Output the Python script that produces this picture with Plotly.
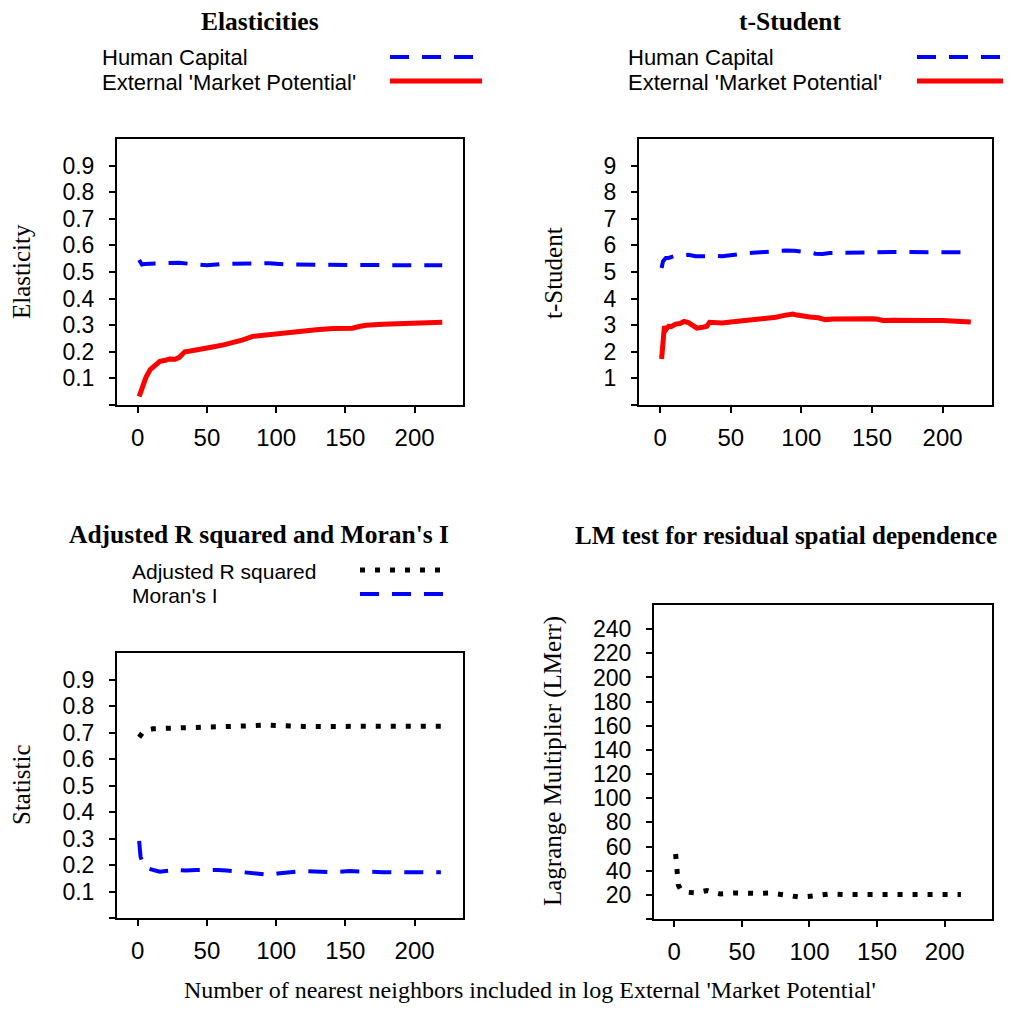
import plotly.graph_objects as go

# ---------------- data ----------------
# Panel 1: Elasticities
el_hc_x = [1, 2, 3, 5, 10, 20, 25, 30, 40, 45, 50, 60, 70, 80, 90, 95, 100, 110, 130, 150, 170, 190, 210, 220]
el_hc_y = [0.545, 0.535, 0.528, 0.530, 0.531, 0.534, 0.537, 0.535, 0.529, 0.526, 0.525, 0.530, 0.531, 0.532,
           0.534, 0.533, 0.531, 0.528, 0.527, 0.527, 0.526, 0.526, 0.525, 0.525]
el_mp_x = [1, 2, 4, 6, 9, 12, 16, 20, 23, 27, 30, 32, 34, 38, 45, 54, 62, 69, 76, 83, 90, 95, 105, 117, 129,
           141, 150, 155, 160, 165, 177, 189, 201, 210, 220]
el_mp_y = [0.032, 0.050, 0.082, 0.105, 0.133, 0.148, 0.164, 0.168, 0.173, 0.172, 0.179, 0.190, 0.200, 0.203,
           0.208, 0.218, 0.226, 0.235, 0.245, 0.258, 0.262, 0.268, 0.272, 0.277, 0.283, 0.288, 0.289, 0.289,
           0.295, 0.300, 0.304, 0.306, 0.308, 0.310, 0.311]

# Panel 2: t-Student
ts_hc_x = [1, 2, 4, 6, 10, 16, 20, 25, 30, 35, 40, 44, 50, 57, 63, 70, 77, 84, 89, 95, 101, 106, 110, 115, 120,
           130, 139, 153, 165, 177, 190, 200, 210, 220]
ts_hc_y = [5.15, 5.40, 5.53, 5.53, 5.60, 5.65, 5.65, 5.59, 5.60, 5.61, 5.60, 5.59, 5.64, 5.68, 5.71, 5.74, 5.78,
           5.80, 5.81, 5.80, 5.78, 5.73, 5.69, 5.68, 5.71, 5.73, 5.74, 5.74, 5.75, 5.75, 5.75, 5.75, 5.75, 5.74]
ts_mp_x = [1, 2, 3, 4, 6, 8, 11, 14, 17, 20, 22, 24, 26, 30, 33, 35, 40, 44, 50, 54, 60, 63, 70, 77, 82, 87,
           91, 94, 97, 101, 106, 112, 117, 123, 129, 140, 150, 153, 158, 165, 177, 190, 200, 210, 220]
ts_mp_y = [1.73, 2.33, 2.96, 2.83, 2.96, 2.95, 3.04, 3.06, 3.14, 3.10, 3.02, 2.95, 2.89, 2.92, 2.96, 3.11, 3.10,
           3.08, 3.12, 3.14, 3.20, 3.23, 3.24, 3.29, 3.30, 3.36, 3.42, 3.42, 3.38, 3.33, 3.31, 3.28, 3.21, 3.23,
           3.24, 3.25, 3.24, 3.23, 3.18, 3.19, 3.17, 3.18, 3.18, 3.15, 3.12]

# Panel 3: Adjusted R squared and Moran's I
r2_x = [1, 2, 4, 7, 11, 21, 30, 45, 60, 69, 80, 91, 100, 105, 120, 141, 165, 190, 219]
r2_y = [0.682, 0.692, 0.703, 0.710, 0.714, 0.716, 0.717, 0.718, 0.720, 0.722, 0.725, 0.728, 0.726, 0.724,
        0.723, 0.723, 0.724, 0.724, 0.724]
mi_x = [1, 2, 4, 7, 12, 16, 22, 26, 30, 35, 42, 50, 58, 64, 72, 83, 90, 95, 101, 107, 115, 122, 130, 141,
        153, 165, 177, 200, 219]
mi_y = [0.291, 0.232, 0.200, 0.188, 0.180, 0.175, 0.178, 0.184, 0.181, 0.179, 0.181, 0.182, 0.181, 0.179,
        0.175, 0.169, 0.165, 0.163, 0.168, 0.172, 0.175, 0.177, 0.176, 0.173, 0.177, 0.175, 0.173, 0.173, 0.173]

# Panel 4: LM test
lm_x = [1, 2, 3, 5, 9, 16, 24, 34, 46, 60, 71, 81, 93, 105, 115, 125, 140, 162, 187, 212]
lm_y = [53.8, 38.7, 28.0, 24.0, 22.2, 21.6, 23.6, 20.8, 21.6, 21.2, 21.6, 20.0, 18.1, 19.4, 20.8, 20.3, 20.0,
        20.3, 20.3, 20.3]

x_ticks = [0, 50, 100, 150, 200]
y01_ticks = [0, 0.1, 0.2, 0.3, 0.4, 0.5, 0.6, 0.7, 0.8, 0.9]
y01_text = ["", "0.1", "0.2", "0.3", "0.4", "0.5", "0.6", "0.7", "0.8", "0.9"]
yt_ticks = [0, 1, 2, 3, 4, 5, 6, 7, 8, 9]
yt_text = ["", "1", "2", "3", "4", "5", "6", "7", "8", "9"]
ylm_ticks = [0, 20, 40, 60, 80, 100, 120, 140, 160, 180, 200, 220, 240]
ylm_text = [""] + [str(v) for v in ylm_ticks[1:]]

titles = ["Elasticities", "t-Student", "Adjusted R squared and Moran's I",
          "LM test for residual spatial dependence"]
ytitles = ["Elasticity", "t-Student", "Statistic", "Lagrange Multiplier (LMerr)"]
xlabel = "Number of nearest neighbors included in log External 'Market Potential'"

# ---------------- styling ----------------
PAGE_W, PAGE_H = 1011, 1012
OFF = 8                      # default page body margin
W, H = PAGE_W - 2 * OFF, PAGE_H - 2 * OFF
SANS = "Liberation Sans"
SERIF = "Liberation Serif"
BLUE = "#0000FF"
RED = "#FF0000"
BLACK = "#000000"
DASH = "19px,13px"
DOT = "5px,10px"


def px(x):
    return (x - OFF) / W


def py(y):
    return 1 - (y - OFF) / H


fig = go.Figure()

fig.add_trace(go.Scatter(x=el_hc_x, y=el_hc_y, mode="lines", xaxis="x", yaxis="y",
                         line=dict(color=BLUE, width=4, dash=DASH), showlegend=False))
fig.add_trace(go.Scatter(x=el_mp_x, y=el_mp_y, mode="lines", xaxis="x", yaxis="y",
                         line=dict(color=RED, width=5), showlegend=False))
fig.add_trace(go.Scatter(x=ts_hc_x, y=ts_hc_y, mode="lines", xaxis="x2", yaxis="y2",
                         line=dict(color=BLUE, width=4, dash=DASH), showlegend=False))
fig.add_trace(go.Scatter(x=ts_mp_x, y=ts_mp_y, mode="lines", xaxis="x2", yaxis="y2",
                         line=dict(color=RED, width=5), showlegend=False))
fig.add_trace(go.Scatter(x=r2_x, y=r2_y, mode="lines", xaxis="x3", yaxis="y3",
                         line=dict(color=BLACK, width=5, dash=DOT), showlegend=False))
fig.add_trace(go.Scatter(x=mi_x, y=mi_y, mode="lines", xaxis="x3", yaxis="y3",
                         line=dict(color=BLUE, width=4, dash=DASH), showlegend=False))
fig.add_trace(go.Scatter(x=lm_x, y=lm_y, mode="lines", xaxis="x4", yaxis="y4",
                         line=dict(color=BLACK, width=5, dash=DOT), showlegend=False))

axis_common = dict(showline=True, linewidth=2, linecolor=BLACK, mirror=True, showgrid=False,
                   zeroline=False, ticks="outside", ticklen=6, tickwidth=2, tickcolor=BLACK)


def xax(dom, anchor):
    return dict(axis_common, domain=dom, anchor=anchor, range=[-15, 235], tickvals=x_ticks,
                tickfont=dict(family=SANS, size=24, color=BLACK), ticklabelstandoff=4)


def yax(dom, anchor, rng, vals, text):
    return dict(axis_common, domain=dom, anchor=anchor, range=rng, tickvals=vals, ticktext=text,
                tickfont=dict(family=SANS, size=23, color=BLACK), ticklabelstandoff=10)


d1x = [px(117), px(463)]
d2x = [px(639), px(992)]
d3x = [px(117), px(463)]
d4x = [px(654), px(992)]
dTy = [py(405), py(139)]
d3y = [py(918), py(653)]
d4y = [py(919), py(605)]

fig.update_layout(
    width=W, height=H,
    margin=dict(l=0, r=0, t=0, b=0),
    paper_bgcolor="white", plot_bgcolor="white",
    xaxis=xax(d1x, "y"), yaxis=yax(dTy, "x", [0, 1], y01_ticks, y01_text),
    xaxis2=xax(d2x, "y2"), yaxis2=yax(dTy, "x2", [0, 10], yt_ticks, yt_text),
    xaxis3=xax(d3x, "y3"), yaxis3=yax(d3y, "x3", [0, 1], y01_ticks, y01_text),
    xaxis4=xax(d4x, "y4"), yaxis4=yax(d4y, "x4", [0, 260], ylm_ticks, ylm_text),
)

ann = []
# panel titles
for t, (cx, cy), fs in zip(titles, [(260, 21), (790, 21), (259, 534), (786, 535)],
                           [25.5, 25.5, 25.5, 25]):
    ann.append(dict(text="<b>" + t + "</b>", x=px(cx), y=py(cy), xref="paper", yref="paper",
                    showarrow=False, xanchor="center", yanchor="middle",
                    font=dict(family=SERIF, size=fs, color=BLACK)))
# y axis titles
for t, (cx, cy) in zip(ytitles, [(22, 272), (553, 273), (21, 785), (553, 761)]):
    ann.append(dict(text=t, x=px(cx), y=py(cy), xref="paper", yref="paper", textangle=-90,
                    showarrow=False, xanchor="center", yanchor="middle",
                    font=dict(family=SERIF, size=25, color=BLACK)))
# common x label
ann.append(dict(text=xlabel, x=px(530), y=py(1004), xref="paper", yref="paper", showarrow=False,
                xanchor="center", yanchor="bottom", borderpad=0,
                font=dict(family=SERIF, size=24, color=BLACK)))

# legends (text + key line)
legend_items = [
    ("Human Capital", 100, 58, 390, 473, BLUE, 4, DASH, 22),
    ("External 'Market Potential'", 100, 82, 390, 482, RED, 5, "solid", 22),
    ("Human Capital", 626, 58, 917, 1000, BLUE, 4, DASH, 22),
    ("External 'Market Potential'", 626, 82, 917, 1003, RED, 5, "solid", 22),
    ("Adjusted R squared", 130, 571, 360, 445, BLACK, 5, DOT, 21),
    ("Moran's I", 130, 595, 360, 445, BLUE, 4, DASH, 21),
]
shapes = []
for text, tx, ty, lx0, lx1, col, w, dash, fs in legend_items:
    ann.append(dict(text=text, x=px(tx), y=py(ty), xref="paper", yref="paper", showarrow=False,
                    xanchor="left", yanchor="middle", font=dict(family=SANS, size=fs, color=BLACK)))
    shapes.append(dict(type="line", xref="paper", yref="paper", x0=px(lx0), x1=px(lx1),
                       y0=py(ty - 1), y1=py(ty - 1), line=dict(color=col, width=w, dash=dash)))

fig.update_layout(annotations=ann, shapes=shapes)

fig.write_html("out.html")
